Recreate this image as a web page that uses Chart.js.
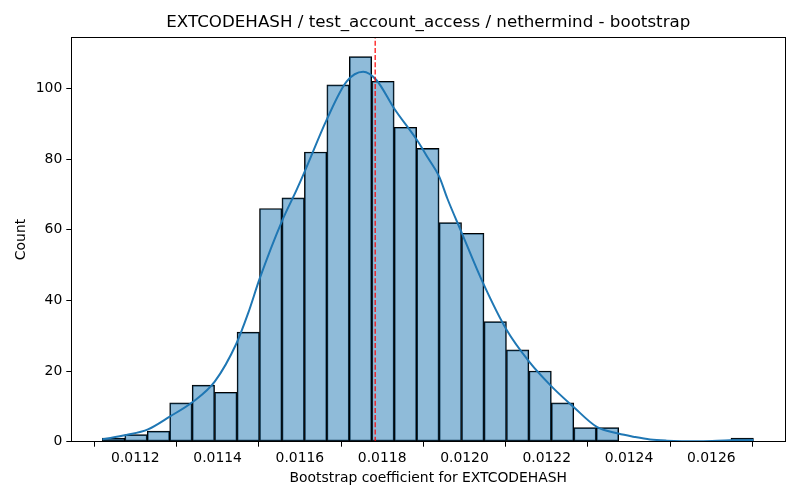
<!DOCTYPE html>
<html>
<head>
<meta charset="utf-8">
<script src="https://cdn.jsdelivr.net/npm/chart.js@4.4.1/dist/chart.umd.min.js"></script>
<style>
  html, body { margin: 0; padding: 0; background: #fff; }
</style>
</head>
<body>
<canvas id="chart" width="800" height="500"></canvas>
<script>
// Histogram bins (equal width) and counts
const binStart = 0.0111197;
const binWidth = 0.00005458;
const counts = [1, 2, 3, 11, 16, 14, 31, 66, 69, 82, 101, 109, 102, 89, 83,
                62, 59, 34, 26, 20, 11, 4, 4, 0, 0, 0, 0, 0, 1];

// KDE curve
const kdeX = [0.0111197, 0.0111781, 0.0112307, 0.0112835, 0.0113401, 0.0113929,
              0.0114457, 0.0114740, 0.0115024, 0.0115567, 0.0115917, 0.0116119,
              0.0116647, 0.0117134, 0.0117538, 0.0117864, 0.0118292, 0.0118861,
              0.0119119, 0.0119387, 0.0119582, 0.0119932, 0.0120457, 0.0121027,
              0.0121577, 0.0122122, 0.0122647, 0.0123217, 0.0123742, 0.0124107,
              0.0124513, 0.0124920, 0.0125730, 0.0126460, 0.0127027];
const kdeY = [0.7, 1.9, 3.5, 7.1, 11.3, 17, 27.8, 36.3, 46.2, 62.5, 71.2, 76.5,
              91, 101.9, 104.7, 102.3, 94.3, 85.1, 80.2, 75, 68.9, 59.2, 44.8, 31.6,
              22.6, 15.6, 9.9, 4.2, 2.3, 1.4, 0.6, 0.3, 0.15, 0.4, 0.45];

// mean of the bootstrap coefficients (red dashed line)
const meanValue = 0.011783;

const titleText = 'EXTCODEHASH / test_account_access / nethermind - bootstrap';
const xTicks = [0.0112, 0.0114, 0.0116, 0.0118, 0.0120, 0.0122, 0.0124, 0.0126];
const yTicks = [0, 20, 40, 60, 80, 100];
const xMin = 0.0110443, xMax = 0.01278;
const yMax = 114.45;

const histData = counts.map((c, i) => ({ x: binStart + (i + 0.5) * binWidth, y: c }));
const kdeData = kdeX.map((x, i) => ({ x: x, y: kdeY[i] }));
const meanData = [{ x: meanValue, y: 0 }, { x: meanValue, y: yMax }];

Chart.defaults.font.family = "'DejaVu Sans', sans-serif";
Chart.defaults.color = '#000';

// frame around the plot area (matplotlib spines) and a title centred on it
const frame = {
  id: 'frame',
  afterDraw(chart) {
    const a = chart.chartArea, ctx = chart.ctx;
    ctx.save();
    ctx.strokeStyle = '#000';
    ctx.lineWidth = 1;
    ctx.strokeRect(Math.round(a.left) + 0.5, Math.round(a.top) + 0.5,
                   Math.round(a.right - a.left), Math.round(a.bottom - a.top));
    ctx.fillStyle = '#000';
    ctx.font = "16.7px 'DejaVu Sans', sans-serif";
    ctx.textAlign = 'center';
    ctx.textBaseline = 'middle';
    ctx.fillText(titleText, (a.left + a.right) / 2, 22.7);
    ctx.restore();
  }
};

new Chart(document.getElementById('chart'), {
  type: 'bar',
  data: {
    datasets: [
      {
        type: 'line',
        data: meanData,
        borderColor: 'red',
        borderWidth: 1.2,
        borderDash: [5, 2.2],
        pointRadius: 0,
        order: 0
      },
      {
        type: 'line',
        data: kdeData,
        borderColor: '#1f77b4',
        borderWidth: 2,
        pointRadius: 0,
        cubicInterpolationMode: 'monotone',
        order: 1
      },
      {
        type: 'bar',
        data: histData,
        backgroundColor: 'rgba(31, 119, 180, 0.5)',
        borderColor: '#000',
        borderWidth: 1,
        borderSkipped: false,
        barPercentage: 1,
        categoryPercentage: 1,
        order: 2
      }
    ]
  },
  options: {
    responsive: false,
    animation: false,
    devicePixelRatio: 1,
    layout: { padding: { left: 0, right: 14.7, top: 37.3, bottom: 0 } },
    plugins: {
      legend: { display: false },
      tooltip: { enabled: false },
      title: { display: false }
    },
    scales: {
      x: {
        type: 'linear',
        min: xMin,
        max: xMax,
        offset: false,
        afterBuildTicks(scale) { scale.ticks = xTicks.map(v => ({ value: v })); },
        afterFit(scale) { scale.height = 58.3; },
        ticks: {
          font: { size: 13.9 },
          padding: 3,
          maxRotation: 0,
          callback: v => v.toFixed(4)
        },
        grid: { drawOnChartArea: false, drawTicks: true, tickLength: 5, color: '#000' },
        border: { display: true, color: '#000', width: 1 },
        title: {
          display: true,
          text: 'Bootstrap coefficient for EXTCODEHASH',
          font: { size: 13.9 },
          padding: { top: 0, bottom: 13.5 }
        }
      },
      y: {
        min: 0,
        max: yMax,
        afterBuildTicks(scale) { scale.ticks = yTicks.map(v => ({ value: v })); },
        afterFit(scale) { scale.width = 71.3; },
        ticks: { font: { size: 13.9 }, padding: 4 },
        grid: { drawOnChartArea: false, drawTicks: true, tickLength: 5, color: '#000' },
        border: { display: true, color: '#000', width: 1 },
        title: {
          display: true,
          text: 'Count',
          font: { size: 13.9 },
          padding: { top: 13.4, bottom: 0 }
        }
      }
    }
  },
  plugins: [frame]
});
</script>
</body>
</html>
